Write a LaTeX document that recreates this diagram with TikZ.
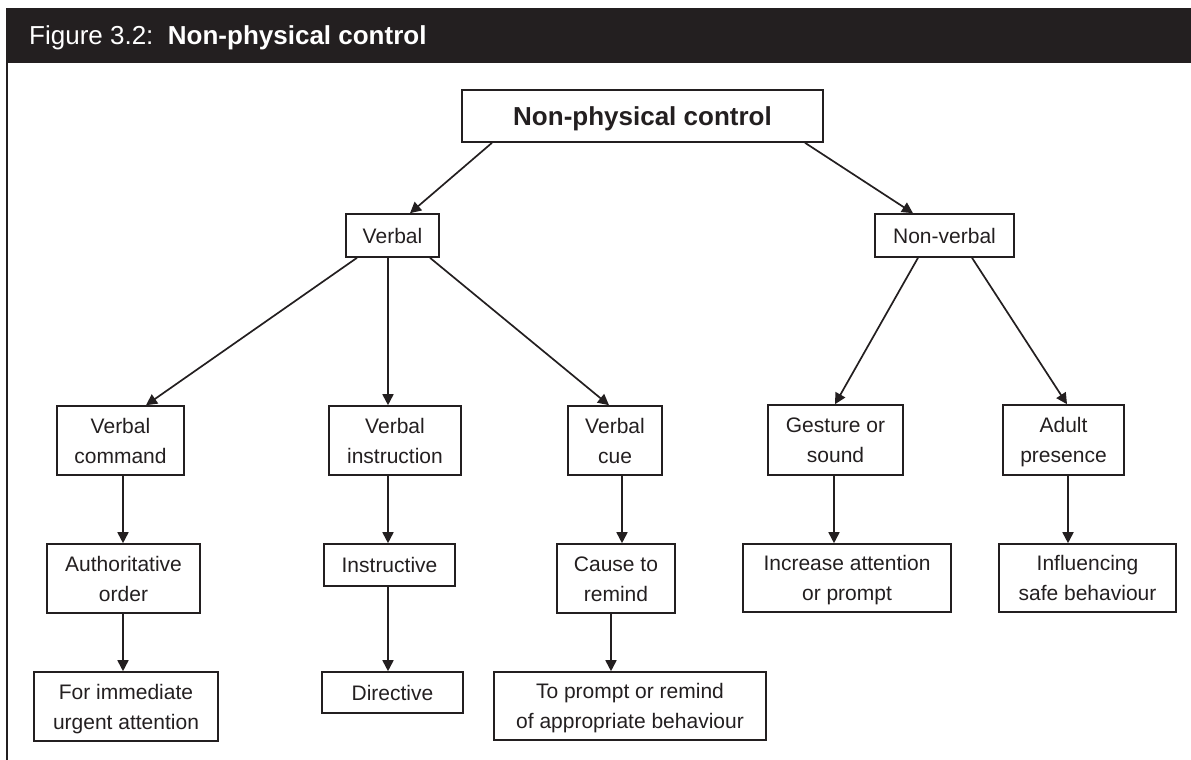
\documentclass[tikz,border=0pt]{standalone}
\usepackage{fontspec}
\setmainfont{Liberation Sans}
\usetikzlibrary{arrows.meta}
\definecolor{ink}{RGB}{35,31,32}
\begin{document}
\begin{tikzpicture}[x=1pt,y=-1pt,
  box/.style={draw=ink,line width=1.6pt,inner sep=0pt,align=center,text=ink,
    font=\fontsize{21}{30}\selectfont,text height=15pt,text depth=0pt},
  one/.style={text height=15pt,text depth=0pt},
  two/.style={text height=45pt,text depth=0pt},
  arr/.style={draw=ink,line width=1.7pt,-{Triangle[length=11pt,width=11pt]}}]
\useasboundingbox (0,0) rectangle (1191,760);
% header band and frame
\fill[ink] (6,8) rectangle (1191,63);
\draw[ink,line width=2pt] (7,63) -- (7,760);
\node[anchor=base west,inner sep=0pt,text=white,font=\fontsize{26}{30}\selectfont] (title) at (29,45) {Figure 3.2:\ \ \textbf{Non-physical control}};
% level 0
\node[box,minimum width=361pt,minimum height=52pt,font=\fontsize{26}{30}\selectfont\bfseries,text height=18.6pt,text depth=0pt] (top) at (642.5,116) {Non-physical control};
% level 1
\node[box,one,minimum width=93pt,minimum height=43pt] (verbal) at (392.5,235.5) {Verbal};
\node[box,one,minimum width=139pt,minimum height=43pt] (nonverbal) at (944.5,235.5) {Non-verbal};
% level 2
\node[box,two,minimum width=127pt,minimum height=69pt] (vcmd) at (120.5,440.5) {Verbal\\command};
\node[box,two,minimum width=132pt,minimum height=69pt] (vinstr) at (395,440.5) {Verbal\\instruction};
\node[box,two,minimum width=94pt,minimum height=69pt] (vcue) at (615,440.5) {Verbal\\cue};
\node[box,two,minimum width=135pt,minimum height=70pt] (gest) at (835.5,440) {Gesture or\\sound};
\node[box,two,minimum width=121pt,minimum height=70pt] (adult) at (1063.5,440) {Adult\\presence};
% level 3
\node[box,two,minimum width=153pt,minimum height=69pt] (auth) at (123.5,578.5) {Authoritative\\order};
\node[box,one,minimum width=131pt,minimum height=42pt] (instr) at (389.5,565) {Instructive};
\node[box,two,minimum width=118pt,minimum height=69pt] (cause) at (616,578.5) {Cause to\\remind};
\node[box,two,minimum width=208pt,minimum height=68pt] (incr) at (847,578) {Increase attention\\or prompt};
\node[box,two,minimum width=177pt,minimum height=68pt] (infl) at (1087.5,578) {Influencing\\safe behaviour};
% level 4
\node[box,two,minimum width=184pt,minimum height=69pt] (immed) at (126,706.5) {For immediate\\urgent attention};
\node[box,one,minimum width=141pt,minimum height=41pt] (direct) at (392.5,692.5) {Directive};
\node[box,two,minimum width=272pt,minimum height=68pt] (toprompt) at (630,706) {To prompt or remind\\of appropriate behaviour};
% connectors
\draw[arr] (top.south -| 492,0) -- (verbal.north -| 410,0);
\draw[arr] (top.south -| 805,0) -- (nonverbal.north -| 913,0);
\draw[arr] (verbal.south -| 357,0) -- (vcmd.north -| 146,0);
\draw[arr] (verbal.south -| 388,0) -- (vinstr.north -| 388,0);
\draw[arr] (verbal.south -| 430,0) -- (vcue.north -| 609,0);
\draw[arr] (nonverbal.south -| 918,0) -- (gest.north -| 835,0);
\draw[arr] (nonverbal.south -| 972,0) -- (adult.north -| 1067,0);
\draw[arr] (vcmd.south -| 123,0) -- (auth.north -| 123,0);
\draw[arr] (vinstr.south -| 388,0) -- (instr.north -| 388,0);
\draw[arr] (vcue.south -| 622,0) -- (cause.north -| 622,0);
\draw[arr] (gest.south -| 834,0) -- (incr.north -| 834,0);
\draw[arr] (adult.south -| 1068,0) -- (infl.north -| 1068,0);
\draw[arr] (auth.south -| 123,0) -- (immed.north -| 123,0);
\draw[arr] (instr.south -| 388,0) -- (direct.north -| 388,0);
\draw[arr] (cause.south -| 611,0) -- (toprompt.north -| 611,0);
\end{tikzpicture}
\end{document}
